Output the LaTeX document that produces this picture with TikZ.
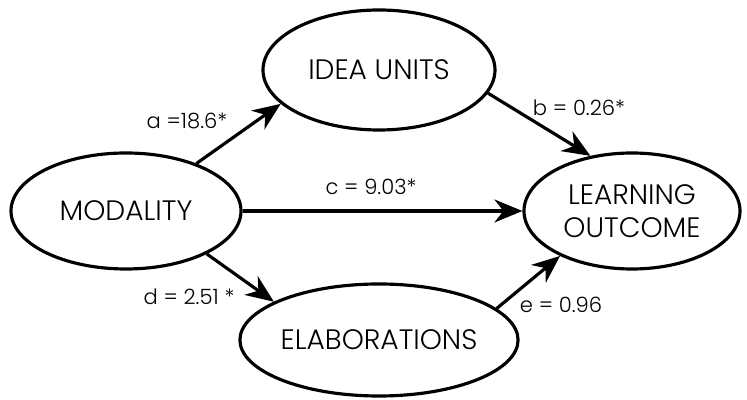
\documentclass[tikz,border=0pt]{standalone}
\usepackage{fontspec}
\setmainfont{Poppins}[UprightFont=* Light]
\usetikzlibrary{shapes.geometric,arrows.meta}

\begin{document}
\begin{tikzpicture}%
  \tikzstyle{varn}=[ellipse,draw=black,line width=1.8pt,inner sep=0,font=\fontsize{16}{18.5}\selectfont,align=center]
  \tikzstyle{path}=[line width=1.8pt,-{Stealth[length=5.6mm,width=4.6mm,inset=1.8mm]}]
  \tikzstyle{coef}=[font=\fontsize{12}{14}\selectfont]
  \useasboundingbox (0,0) rectangle (14.94,8);
  \node(mod)[varn,minimum width=4.6cm,minimum height=2.32cm] at (2.52,3.78) {MODALITY};
  \node(idea)[varn,minimum width=4.64cm,minimum height=2.4cm] at (7.58,6.6) {IDEA UNITS};
  \node(elab)[varn,minimum width=4.64cm,minimum height=2.24cm] at (7.58,1.2) {ELABORATIONS};
  \node(out)[varn,minimum width=4.32cm,minimum height=2.32cm] at (12.64,3.78) {LEARNING\\OUTCOME};
  \node(a)[coef] at (3.74,5.58) {a =18.6*};
  \node(b)[coef] at (11.58,5.84) {b = 0.26*};
  \node(c)[coef] at (7.42,4.26) {c = 9.03*};
  \node(d)[coef] at (3.78,2.06) {d = 2.51 *};
  \node(e)[coef] at (11.22,1.9) {e = 0.96};
  \draw[path] (mod.34) -- (idea.199);
  \draw[path] (idea.-12) -- (out.127);
  \draw[path] (mod.east) -- (out.west);
  \draw[path] (mod.-28) -- (elab.160);
  \draw[path] (elab.15) -- (out.212);
\end{tikzpicture}
\end{document}
